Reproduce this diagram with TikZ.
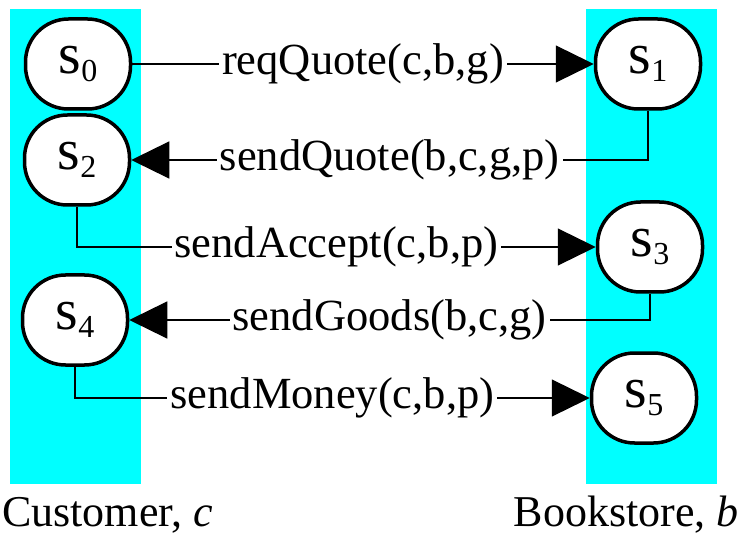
\documentclass[tikz,border=0pt]{standalone}
\usepackage{fontspec}
\setmainfont{Liberation Serif}
\definecolor{lanecyan}{RGB}{0,255,255}
\usetikzlibrary{arrows.meta,positioning}
\newcommand{\sname}[1]{{\fontsize{58}{58}\selectfont s}\raisebox{-8pt}{\fontsize{32}{32}\selectfont #1}}
\tikzset{
  stbox/.style={draw=black,line width=3.5pt,fill=white,rounded corners=43pt,
    minimum width=105pt,minimum height=90pt,inner sep=0pt},
  msg/.style={line width=1.2pt,-{Triangle[length=38pt,width=37pt]}},
  msglbl/.style={fill=white,inner xsep=3pt,inner ysep=0pt,font=\fontsize{44.5}{48}\selectfont}
}

\begin{document}
\begin{tikzpicture}[x=1pt,y=-1pt]
  \useasboundingbox (0,0) rectangle (744,537);
  %% Swim lanes
  \fill[lanecyan] (10,9) rectangle (141,484);
  \fill[lanecyan] (586,9) rectangle (717,484);
  %% States
  \node[stbox] (s0) at (78,64) {\sname{0}};
  \node[stbox] (s1) at (648,64) {\sname{1}};
  \node[stbox] (s2) at (77,160) {\sname{2}};
  \node[stbox] (s3) at (650,247) {\sname{3}};
  \node[stbox] (s4) at (75,320) {\sname{4}};
  \node[stbox] (s5) at (644,398) {\sname{5}};
  %% Messages
  \draw[msg] (s0.east) -- (s1.west) node[msglbl,midway] {reqQuote(c,b,g)};
  \draw[msg] (s1.south) |- (s2.east) node[msglbl,pos=0.75] {sendQuote(b,c,g,p)};
  \draw[msg] (s2.south) |- (s3.west) node[msglbl,pos=0.75] {sendAccept(c,b,p)};
  \draw[msg] (s3.south) |- (s4.east) node[msglbl,pos=0.75] {sendGoods(b,c,g)};
  \draw[msg] (s4.south) |- (s5.west) node[msglbl,pos=0.75] {sendMoney(c,b,p)};
  %% Roles
  \node[anchor=base west,inner sep=0pt,font=\fontsize{44}{48}\selectfont] (cust) at (2,526) {Customer, \textit{c}};
  \node[anchor=base east,inner sep=0pt,font=\fontsize{44}{48}\selectfont] (book) at (739,526) {Bookstore, \textit{b}};
\end{tikzpicture}
\end{document}
